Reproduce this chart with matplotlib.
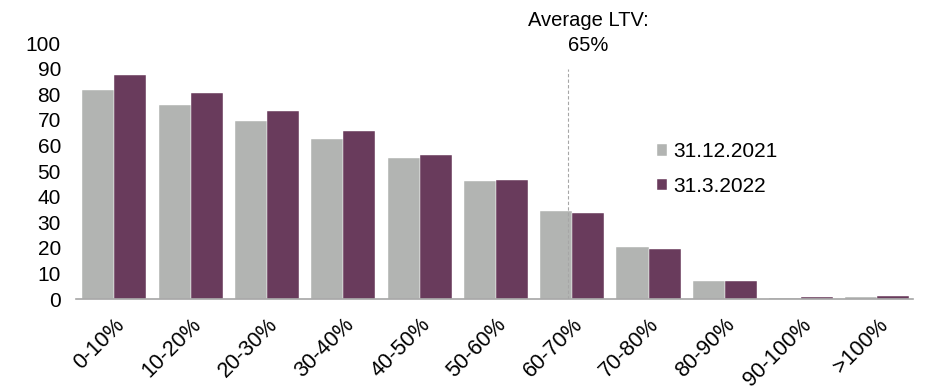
import numpy as np
import matplotlib.pyplot as plt

plt.rcParams['font.family'] = ['Liberation Sans', 'DejaVu Sans']

# LTV buckets
categories = ['0-10%', '10-20%', '20-30%', '30-40%', '40-50%', '50-60%',
              '60-70%', '70-80%', '80-90%', '90-100%', '>100%']

# share per bucket
dec_2021 = [81.6, 75.8, 69.5, 62.5, 55.0, 46.2, 34.6, 20.2, 6.9, 0.5, 0.9]
mar_2022 = [87.4, 80.7, 73.4, 65.5, 56.5, 46.6, 33.6, 19.5, 6.9, 0.8, 1.4]

avg_ltv_pos = 5.95  # position of the average LTV marker (65%)

gray = '#B2B4B2'
purple = '#693B5C'

x = np.arange(len(categories))
w = 0.42

fig = plt.figure(figsize=(9.3, 3.89), dpi=100)
ax = fig.add_axes([0.082, 0.231, 0.9, 0.658])

ax.bar(x - w / 2, dec_2021, width=w, color=gray, edgecolor='white', linewidth=0.3, label='31.12.2021')
ax.bar(x + w / 2, mar_2022, width=w, color=purple, edgecolor='white', linewidth=0.3, label='31.3.2022')

# average LTV line
ax.plot([avg_ltv_pos, avg_ltv_pos], [0, 90], color='#A6A6A6', linestyle=(0, (3, 2)), linewidth=0.8)
ax.text(6.21, 106.6, 'Average LTV:', ha='center', va='baseline', fontsize=14.5, clip_on=False)
ax.text(6.21, 96.9, '65%', ha='center', va='baseline', fontsize=14.5, clip_on=False)

ax.set_xlim(-0.5, 10.47)
ax.set_ylim(0, 100)
ax.set_yticks(range(0, 101, 10))
ax.set_xticks(x)
ax.set_xticklabels(categories, rotation=45, ha='right', rotation_mode='anchor')
ax.tick_params(axis='y', length=0, labelsize=15, pad=11)
ax.tick_params(axis='x', length=0, labelsize=15.5, pad=11)

for s in ['top', 'right', 'left']:
    ax.spines[s].set_visible(False)
ax.spines['bottom'].set_color('#A6A6A6')
ax.spines['bottom'].set_linewidth(1.2)

ax.legend(loc='upper left', bbox_to_anchor=(0.694, 0.612), frameon=False, fontsize=15,
          borderpad=0, borderaxespad=0, handlelength=0.45, handleheight=0.45,
          handletextpad=0.3, labelspacing=0.75)

plt.savefig('out.png', dpi=100)
